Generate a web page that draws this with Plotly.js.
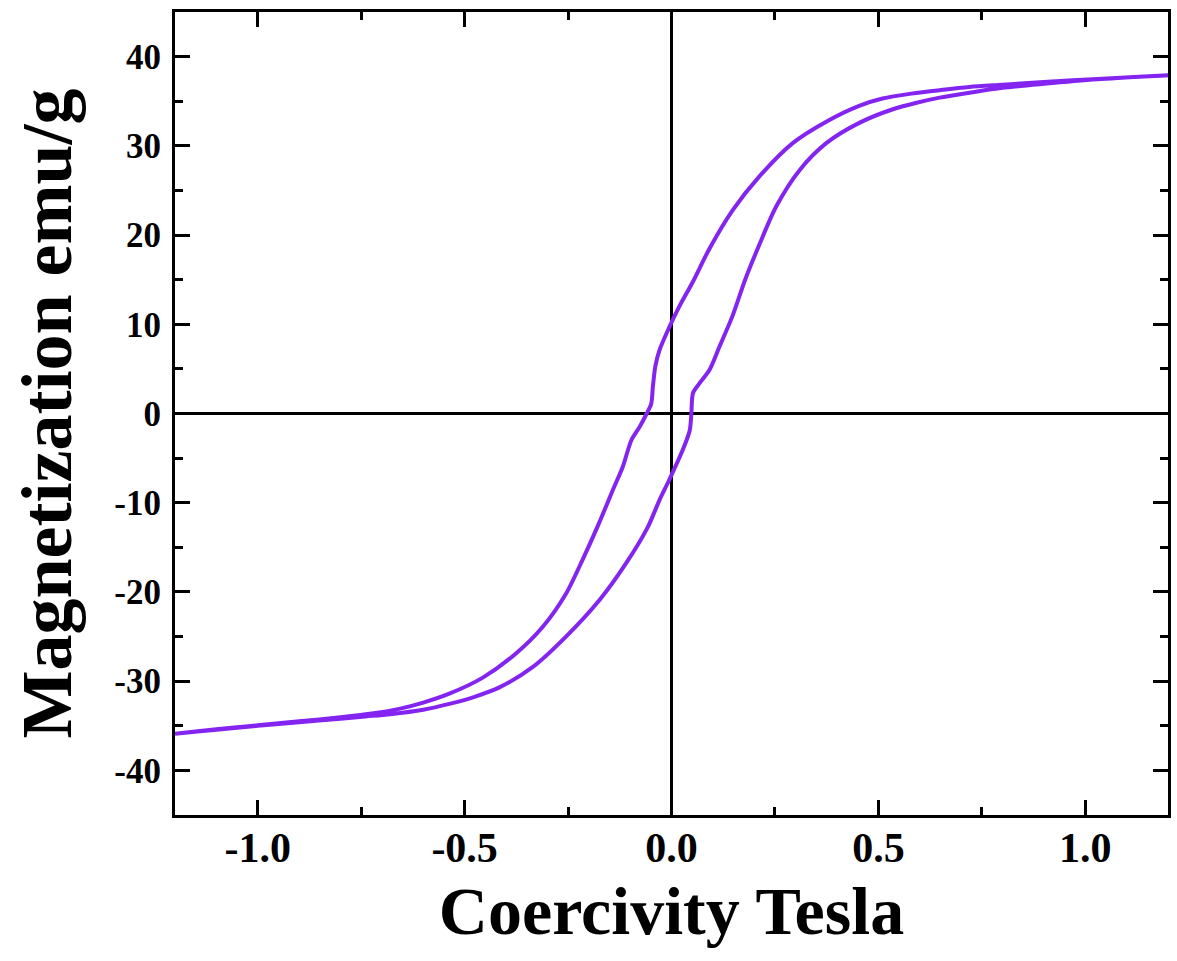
<!DOCTYPE html>
<html>
<head>
<meta charset="utf-8">
<script src="https://cdn.plot.ly/plotly-3.0.1.min.js"></script>
<style>html,body{margin:0;padding:0;background:#fff;}#chart{width:1177px;height:961px;}</style>
</head>
<body>
<div id="chart"></div>
<script>
// Descending branch (field from +1.2 T to -1.2 T)
const descField = [1.20, 1.03, 0.90, 0.80, 0.72, 0.65, 0.58, 0.51, 0.455, 0.374, 0.293, 0.213, 0.148, 0.092, 0.052, 0.019, -0.005, -0.029, -0.039, -0.045, -0.049, -0.060, -0.077, -0.097, -0.118, -0.142, -0.178, -0.215, -0.255, -0.311, -0.376, -0.456, -0.537, -0.60, -0.658, -0.72, -0.80, -0.90, -1.00, -1.10, -1.20];
const descMag   = [37.9, 37.5, 37.15, 36.85, 36.6, 36.25, 35.85, 35.3, 34.5, 32.7, 30.3, 26.6, 22.8, 18.5, 14.8, 12.0, 9.7, 7.1, 5.3, 3.0, 1.1, 0.0, -1.5, -3.0, -6.0, -8.6, -12.6, -16.4, -20.2, -23.9, -26.9, -29.6, -31.4, -32.4, -33.1, -33.6, -34.05, -34.5, -34.95, -35.4, -35.9];
// Ascending branch (field from -1.2 T to +1.2 T)
const ascField  = [-1.20, -1.10, -1.00, -0.90, -0.80, -0.74, -0.68, -0.60, -0.537, -0.476, -0.416, -0.335, -0.255, -0.174, -0.110, -0.057, -0.029, -0.005, 0.027, 0.044, 0.048, 0.052, 0.068, 0.092, 0.116, 0.148, 0.178, 0.213, 0.253, 0.310, 0.374, 0.455, 0.535, 0.59, 0.648, 0.72, 0.80, 0.90, 1.03, 1.20];
const ascMag    = [-35.9, -35.45, -35.0, -34.6, -34.2, -33.95, -33.7, -33.2, -32.55, -31.75, -30.7, -28.4, -25.0, -20.9, -16.8, -12.7, -9.7, -7.4, -4.1, -1.9, 0.0, 2.3, 3.4, 4.9, 7.5, 11.0, 15.0, 19.0, 23.2, 27.3, 30.3, 32.6, 34.1, 34.8, 35.4, 35.95, 36.5, 36.95, 37.45, 37.9];

const xTickVals = [-1.0, -0.5, 0.0, 0.5, 1.0];
const xTickText = ['-1.0', '-0.5', '0.0', '0.5', '1.0'];
const yTickVals = [-40, -30, -20, -10, 0, 10, 20, 30, 40];
const yTickText = ['-40', '-30', '-20', '-10', '0', '10', '20', '30', '40'];

const serif = 'Liberation Serif, Times New Roman, serif';
const lineColor = '#8424F0';

const trace = {
  x: descField.concat(ascField),
  y: descMag.concat(ascMag),
  type: 'scatter',
  mode: 'lines',
  line: {color: lineColor, width: 4, shape: 'spline', smoothing: 0.8},
  hoverinfo: 'skip'
};

const axisCommon = {
  showgrid: false,
  showline: true,
  linecolor: '#000',
  linewidth: 3,
  mirror: 'ticks',
  ticks: 'inside',
  ticklen: 15,
  tickwidth: 3,
  tickcolor: '#000',
  zeroline: true,
  zerolinecolor: '#000',
  zerolinewidth: 3
};

const layout = {
  width: 1177,
  height: 961,
  margin: {l: 175, r: 9, t: 12, b: 146},
  paper_bgcolor: '#fff',
  plot_bgcolor: '#fff',
  showlegend: false,
  xaxis: Object.assign({}, axisCommon, {
    range: [-1.2, 1.2],
    tickmode: 'array',
    tickvals: xTickVals,
    ticktext: xTickText,
    minor: {ticks: 'inside', ticklen: 8, tickwidth: 3, tickcolor: '#000', dtick: 0.25, tick0: 0, showgrid: false},
    tickfont: {family: serif, size: 42, color: '#000', weight: 'bold'},
    ticklabelstandoff: -6,
    title: {text: 'Coercivity Tesla', font: {family: serif, size: 68, color: '#000', weight: 'bold'}, standoff: 16}
  }),
  yaxis: Object.assign({}, axisCommon, {
    range: [-45, 45],
    tickmode: 'array',
    tickvals: yTickVals,
    ticktext: yTickText,
    minor: {ticks: 'inside', ticklen: 8, tickwidth: 3, tickcolor: '#000', dtick: 5, tick0: 0, showgrid: false},
    tickfont: {family: serif, size: 35, color: '#000', weight: 'bold'},
    ticklabelstandoff: 4,
    title: {text: 'Magnetization emu/g', font: {family: serif, size: 72, color: '#000', weight: 'bold'}, standoff: 20}
  })
};

Plotly.newPlot('chart', [trace], layout, {displayModeBar: false, staticPlot: true});
</script>
</body>
</html>
